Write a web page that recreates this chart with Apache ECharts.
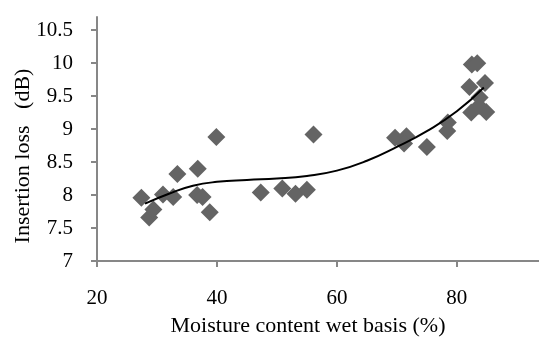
<!DOCTYPE html>
<html>
<head>
<meta charset="utf-8">
<script src="https://cdn.jsdelivr.net/npm/echarts@6/dist/echarts.min.js"></script>
<style>
  html, body { margin: 0; padding: 0; background: #fff; }
  #chart { width: 539px; height: 337px; }
</style>
</head>
<body>
<div id="chart"></div>
<script>
// measured points: moisture content (%) vs insertion loss (dB)
const moisture = [27.4, 28.7, 29.4, 31.0, 32.7, 33.4, 36.8, 36.7, 37.6, 38.8,
  39.9, 47.3, 50.9, 53.1, 55.0, 56.1, 69.7, 71.6, 71.2, 75.0,
  78.5, 78.4, 82.5, 83.4, 82.1, 84.7, 83.8, 83.7, 82.4, 84.9];
const insertionLoss = [7.96, 7.66, 7.78, 8.01, 7.97, 8.32, 8.40, 8.00, 7.97, 7.74,
  8.88, 8.04, 8.10, 8.02, 8.08, 8.92, 8.87, 8.89, 8.78, 8.73,
  9.10, 8.97, 9.98, 10.0, 9.64, 9.70, 9.48, 9.35, 9.25, 9.26];

// trend line
const trendX = [28, 32, 36, 40, 45, 50, 55, 60, 65, 70, 75, 80, 84.5];
const trendY = [7.87, 8.02, 8.14, 8.20, 8.23, 8.25, 8.29, 8.37, 8.52, 8.73, 8.97, 9.27, 9.63];

const xTicks = [20, 40, 60, 80];
const yTicks = [7, 7.5, 8, 8.5, 9, 9.5, 10, 10.5];

const font = '"Liberation Serif", "Times New Roman", serif';
const axisGray = '#878787';

const chart = echarts.init(document.getElementById('chart'));

const option = {
  backgroundColor: '#fff',
  animation: false,
  grid: { left: 97, right: 0, top: 17, bottom: 76, containLabel: false },
  xAxis: {
    type: 'value',
    min: 20,
    max: 93.7,
    axisLine: { lineStyle: { color: axisGray, width: 2 } },
    axisTick: { customValues: xTicks, length: 6, lineStyle: { color: axisGray, width: 2 } },
    axisLabel: { customValues: xTicks, margin: 27, color: '#000', fontFamily: font, fontSize: 21 },
    splitLine: { show: false }
  },
  yAxis: {
    type: 'value',
    min: 7,
    max: 10.7,
    axisLine: { show: true, lineStyle: { color: axisGray, width: 2 } },
    axisTick: { show: true, customValues: yTicks, length: 6, lineStyle: { color: axisGray, width: 2 } },
    axisLabel: { customValues: yTicks, margin: 24, color: '#000', fontFamily: font, fontSize: 21 },
    splitLine: { show: false }
  },
  graphic: [
    {
      type: 'text',
      x: 308, y: 326,
      style: {
        text: 'Moisture content wet basis (%)',
        align: 'center', verticalAlign: 'middle',
        fill: '#000', font: '22px ' + font
      }
    },
    {
      type: 'text',
      x: 23, y: 156,
      rotation: Math.PI / 2,
      style: {
        text: 'Insertion loss   (dB)',
        align: 'center', verticalAlign: 'middle',
        fill: '#000', font: '22px ' + font
      }
    }
  ],
  series: [
    {
      type: 'scatter',
      symbol: 'diamond',
      symbolSize: 18,
      itemStyle: { color: '#646464', opacity: 1 },
      data: moisture.map((m, i) => [m, insertionLoss[i]]),
      z: 2
    },
    {
      type: 'line',
      smooth: true,
      showSymbol: false,
      lineStyle: { color: '#000', width: 2 },
      data: trendX.map((t, i) => [t, trendY[i]]),
      z: 3
    }
  ]
};

chart.setOption(option);
</script>
</body>
</html>
